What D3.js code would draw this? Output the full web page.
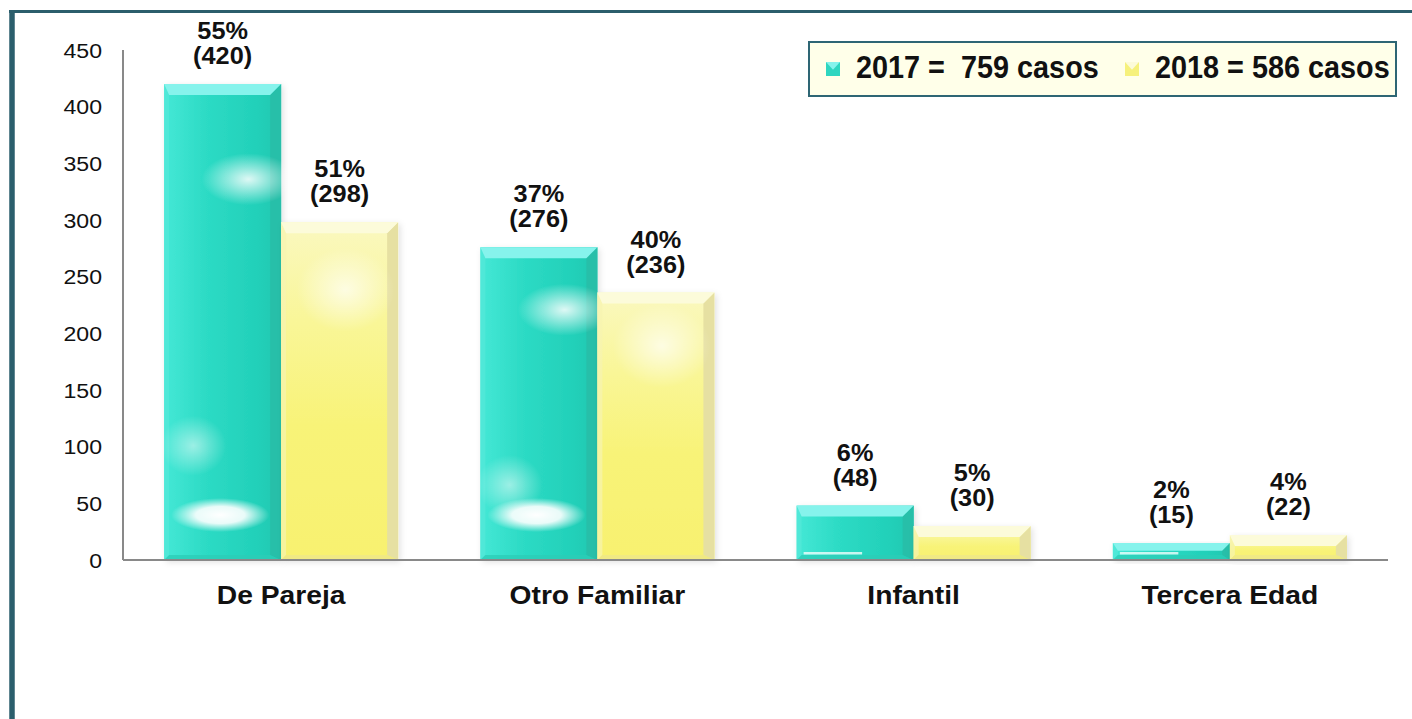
<!DOCTYPE html>
<html><head><meta charset="utf-8">
<script src="https://cdn.jsdelivr.net/npm/d3@7"></script>
<style>
html,body{margin:0;padding:0;background:#fff;}
svg{display:block;font-family:"Liberation Sans",Arial,Helvetica,sans-serif;}
</style></head>
<body>
<svg id="chart" width="1412" height="719"></svg>
<script>
const categories = ["De Pareja", "Otro Familiar", "Infantil", "Tercera Edad"];
const values2017 = [420, 276, 48, 15];
const values2018 = [298, 236, 30, 22];
const pct2017 = ["55%", "37%", "6%", "2%"];
const pct2018 = ["51%", "40%", "5%", "4%"];
const yTicks = [0, 50, 100, 150, 200, 250, 300, 350, 400, 450];
const legendLabels = ["2017 =  759 casos", "2018 = 586 casos"];
const seriesKeys = ["2017", "2018"];

const svg = d3.select("#chart");
const W = 1412, H = 719;
const plot = {left: 123, right: 1388, top: 50, bottom: 560};

// frame
svg.append("rect").attr("x", 0).attr("y", 0).attr("width", W).attr("height", H).attr("fill", "#fff");
svg.append("line").attr("x1", 9).attr("x2", W).attr("y1", 11.5).attr("y2", 11.5)
  .attr("stroke", "#2B5E6C").attr("stroke-width", 3);
svg.append("line").attr("x1", 12).attr("x2", 12).attr("y1", 10).attr("y2", H)
  .attr("stroke", "#2B5E6C").attr("stroke-width", 5.5);

const x0 = d3.scaleBand().domain(categories).range([plot.left, plot.right]).paddingInner(0.26).paddingOuter(0.13);
const x1 = d3.scaleBand().domain(seriesKeys).range([0, x0.bandwidth()]).padding(0);
const y = d3.scaleLinear().domain([0, 450]).range([plot.bottom, plot.top]);

// defs
const defs = svg.append("defs");
function lin(id, dir, stops) {
  const g = defs.append("linearGradient").attr("id", id);
  if (dir === "h") g.attr("x1", 0).attr("y1", 0).attr("x2", 1).attr("y2", 0);
  else g.attr("x1", 0).attr("y1", 0).attr("x2", 0).attr("y2", 1);
  stops.forEach(s => g.append("stop").attr("offset", s[0]).attr("stop-color", s[1]).attr("stop-opacity", s[2] == null ? 1 : s[2]));
}
lin("tealFace", "h", [[0, "#45E8D6"], [0.35, "#2DDBC5"], [0.8, "#22D0B9"], [1, "#1FC7B0"]]);
lin("yellowFace", "v", [[0, "#FAF8C0"], [0.3, "#F9F697"], [0.6, "#F8F378"], [1, "#F8F170"]]);
const rg = defs.append("radialGradient").attr("id", "glow");
rg.append("stop").attr("offset", 0).attr("stop-color", "#fff").attr("stop-opacity", 1);
rg.append("stop").attr("offset", 0.5).attr("stop-color", "#fff").attr("stop-opacity", 0.9);
rg.append("stop").attr("offset", 1).attr("stop-color", "#fff").attr("stop-opacity", 0);
const rgs = defs.append("radialGradient").attr("id", "softglow");
rgs.append("stop").attr("offset", 0).attr("stop-color", "#fff").attr("stop-opacity", 0.85);
rgs.append("stop").attr("offset", 1).attr("stop-color", "#fff").attr("stop-opacity", 0);
defs.append("filter").attr("id", "shadow").attr("x", "-10%").attr("y", "-10%").attr("width", "130%").attr("height", "130%")
  .append("feDropShadow").attr("dx", 2).attr("dy", 2).attr("stdDeviation", 3).attr("flood-color", "#000").attr("flood-opacity", 0.12);

const styles = {
  "2017": {face: "url(#tealFace)", top: "#86F3EC", right: "#27BFA9", left: "#55E8D8", bottom: "#2CCDB7", sym: "#2FD6C0"},
  "2018": {face: "url(#yellowFace)", top: "#FCFBDA", right: "#E6E0A2", left: "#F7F4B0", bottom: "#EDE78A", sym: "#F6F17C"}
};

// y axis line
svg.append("line").attr("x1", plot.left).attr("x2", plot.left).attr("y1", y(450)).attr("y2", y(0))
  .attr("stroke", "#898989").attr("stroke-width", 2);

// y tick labels
svg.append("g").selectAll("text").data(yTicks).join("text")
  .attr("transform", d => `translate(102,${y(d) + 7.5}) scale(1.1,1)`)
  .attr("text-anchor", "end").attr("font-size", 21).attr("fill", "#111")
  .text(d => d);

// bars
const barData = [];
categories.forEach((c, i) => {
  barData.push({cat: c, key: "2017", v: values2017[i], pct: pct2017[i], idx: i});
  barData.push({cat: c, key: "2018", v: values2018[i], pct: pct2018[i], idx: i});
});

const bars = svg.append("g").selectAll("g.bar").data(barData).join("g").attr("class", "bar");
bars.each(function(d) {
  const g = d3.select(this);
  const bx = x0(d.cat) + x1(d.key), bw = x1.bandwidth();
  const by = y(d.v), bh = y(0) - y(d.v);
  const s = styles[d.key];
  const b = Math.min(11, bh / 2.2);
  const bl = Math.min(5, bh / 3);
  g.append("rect").attr("x", bx).attr("y", by).attr("width", bw).attr("height", bh).attr("fill", s.face).attr("filter", "url(#shadow)");
  g.append("polygon").attr("points", [[bx, by], [bx + bl, by + b], [bx + bl, by + bh - bl], [bx, by + bh]].join(" ")).attr("fill", s.left).attr("opacity", 0.7);
  g.append("polygon").attr("points", [[bx + bw, by], [bx + bw, by + bh], [bx + bw - b, by + bh - bl], [bx + bw - b, by + b]].join(" ")).attr("fill", s.right);
  g.append("polygon").attr("points", [[bx, by + bh], [bx + bw, by + bh], [bx + bw - b, by + bh - bl], [bx + bl, by + bh - bl]].join(" ")).attr("fill", s.bottom).attr("opacity", 0.8);
  g.append("polygon").attr("points", [[bx, by], [bx + bw, by], [bx + bw - b, by + b], [bx + bl, by + b]].join(" ")).attr("fill", s.top);
  if (d.key === "2017" && bh > 150) {
    g.append("ellipse").attr("cx", bx + bw * 0.48).attr("cy", by + bh - 45).attr("rx", bw * 0.42).attr("ry", 17).attr("fill", "url(#glow)");
    g.append("ellipse").attr("cx", bx + bw * 0.72).attr("cy", by + bh * 0.2).attr("rx", bw * 0.4).attr("ry", 26).attr("fill", "url(#softglow)");
    g.append("ellipse").attr("cx", bx + bw * 0.25).attr("cy", by + bh * 0.76).attr("rx", bw * 0.28).attr("ry", 30).attr("fill", "url(#softglow)").attr("opacity", 0.6);
  } else if (d.key === "2018" && bh > 150) {
    g.append("ellipse").attr("cx", bx + bw * 0.55).attr("cy", by + bh * 0.2).attr("rx", bw * 0.42).attr("ry", 42).attr("fill", "url(#softglow)").attr("opacity", 0.8);
  } else if (d.key === "2017") {
    g.append("rect").attr("x", bx + bl + 2).attr("y", by + bh - 8).attr("width", bw * 0.5).attr("height", 2.5).attr("fill", "#fff").attr("opacity", 0.75);
  }
  const cx = bx + bw / 2;
  g.append("text").attr("transform", `translate(${cx},${by - 45}) scale(1.1,1)`).attr("text-anchor", "middle")
    .attr("font-size", 23).attr("font-weight", "bold").attr("fill", "#111").text(d.pct);
  g.append("text").attr("transform", `translate(${cx},${by - 20}) scale(1.1,1)`).attr("text-anchor", "middle")
    .attr("font-size", 23).attr("font-weight", "bold").attr("fill", "#111").text(`(${d.v})`);
});

svg.append("line").attr("x1", plot.left).attr("x2", plot.right).attr("y1", y(0)).attr("y2", y(0))
  .attr("stroke", "#898989").attr("stroke-width", 2);

// category labels
svg.append("g").selectAll("text").data(categories).join("text")
  .attr("transform", d => `translate(${x0(d) + x0.bandwidth() / 2},604) scale(1.13,1)`)
  .attr("text-anchor", "middle").attr("font-size", 25).attr("font-weight", "bold").attr("fill", "#111")
  .text(d => d);

// legend
const lg = svg.append("g");
lg.append("rect").attr("x", 809).attr("y", 42).attr("width", 587).attr("height", 54)
  .attr("fill", "#FFFFE9").attr("stroke", "#2E6674").attr("stroke-width", 2);
const legendSym = [826, 1125];
const legendText = [856, 1155];
seriesKeys.forEach((k, i) => {
  const sx = legendSym[i], sy = 62, sz = 14;
  const s = styles[k];
  lg.append("rect").attr("x", sx).attr("y", sy).attr("width", sz).attr("height", sz).attr("fill", s.sym);
  lg.append("polygon").attr("points", [[sx, sy], [sx + sz, sy], [sx + sz / 2, sy + sz * 0.55]].join(" ")).attr("fill", s.top);
  lg.append("text").attr("transform", `translate(${legendText[i]},78) scale(0.93,1)`).attr("font-size", 31).attr("font-weight", "bold").attr("fill", "#111")
    .style("white-space", "pre").text(legendLabels[i]);
});
</script>
</body></html>
